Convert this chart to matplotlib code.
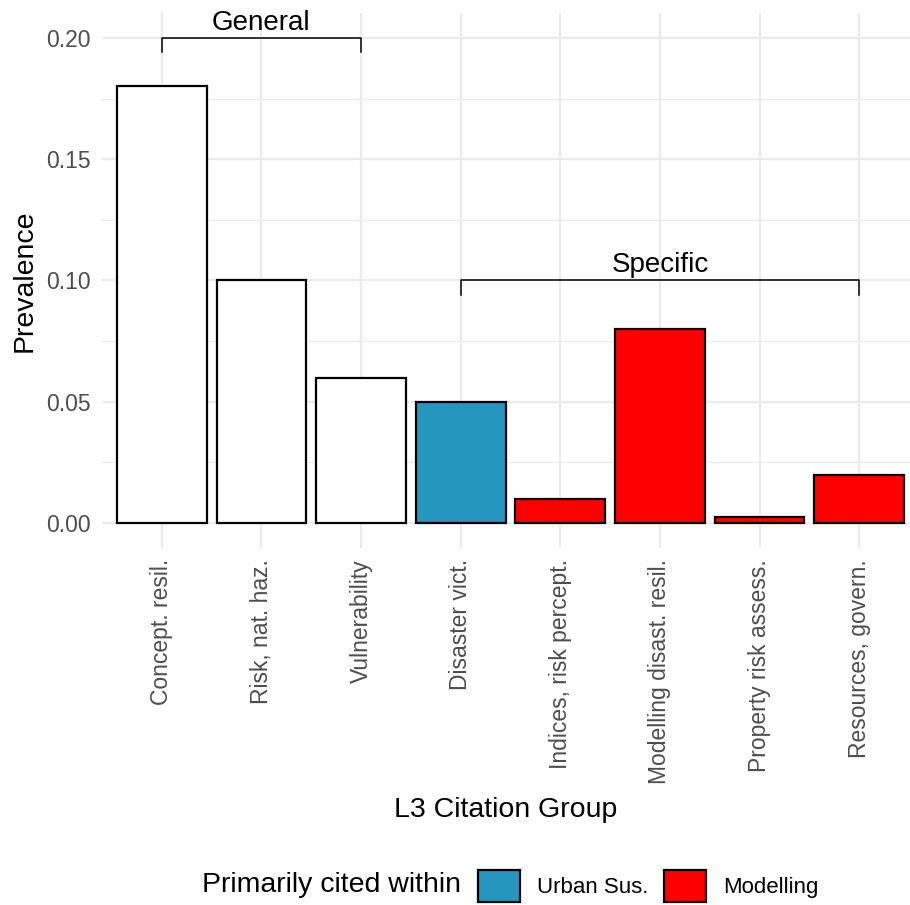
import matplotlib
matplotlib.use("Agg")
import matplotlib.pyplot as plt
from matplotlib.patches import Patch
import numpy as np

plt.rcParams['font.family'] = ['Liberation Sans', 'DejaVu Sans']

groups = ["Concept. resil.", "Risk, nat. haz.", "Vulnerability", "Disaster vict.",
          "Indices, risk percept.", "Modelling disast. resil.",
          "Property risk assess.", "Resources, govern."]
prevalence = [0.18, 0.10, 0.06, 0.05, 0.01, 0.08, 0.0025, 0.02]
cited_within = [None, None, None, "Urban Sus.", "Modelling", "Modelling", "Modelling", "Modelling"]

fill_colors = {None: "white", "Urban Sus.": "#2596be", "Modelling": "#ff0000"}

# brackets: (label, first index, last index, height)
brackets = [("General", 0, 2, 0.20), ("Specific", 3, 7, 0.10)]

fig = plt.figure(figsize=(9.1, 9.05), dpi=100)
W, H = 910, 905
ax = fig.add_axes([102 / W, 1 - 548 / H, (910 - 102) / W, (548 - 13) / H])

x = np.arange(len(groups))
ax.bar(x, prevalence, width=0.9, color=[fill_colors[c] for c in cited_within],
       edgecolor="black", linewidth=1.6, zorder=3)

for label, i0, i1, h in brackets:
    tick = 0.0058
    ax.plot([i0, i0, i1, i1], [h - tick, h, h, h - tick], color="black", lw=1.1, zorder=4)
    ax.text((i0 + i1) / 2, h + 0.001, label, ha="center", va="bottom", fontsize=20, zorder=4)

ax.set_xlim(-0.6, 7.51)
ax.set_ylim(-0.0103, 0.2103)
ax.set_yticks([0, 0.05, 0.10, 0.15, 0.20])
ax.set_yticklabels(["0.00", "0.05", "0.10", "0.15", "0.20"])
ax.set_yticks(np.arange(0.025, 0.2, 0.05), minor=True)
ax.set_xticks(x)
ax.set_xticklabels(groups, rotation=90, va="top")

ax.grid(which="major", color="#ebebeb", lw=1.6, zorder=0)
ax.grid(which="minor", axis="y", color="#ebebeb", lw=0.8, zorder=0)
ax.tick_params(which="both", length=0, colors="#4d4d4d", labelsize=16.5, pad=8)
for s in ax.spines.values():
    s.set_visible(False)

ax.set_ylabel("Prevalence", fontsize=20.5, labelpad=6)
ax.set_xlabel("L3 Citation Group", fontsize=20.5, labelpad=9)

handles = [Patch(facecolor=fill_colors["Urban Sus."], edgecolor="black", lw=1.6),
           Patch(facecolor=fill_colors["Modelling"], edgecolor="black", lw=1.6)]
fig.text(202 / W, 1 - 885 / H, "Primarily cited within", fontsize=20.5, va="center", ha="left")
fig.legend(handles, ["Urban Sus.", "Modelling"], loc="center left",
           bbox_to_anchor=(458 / W, 1 - 886 / H), ncol=2, frameon=False,
           fontsize=16, handlelength=1.9, handleheight=1.9, columnspacing=0.7,
           handletextpad=0.75)

fig.savefig("out.png", dpi=100, facecolor="white")
